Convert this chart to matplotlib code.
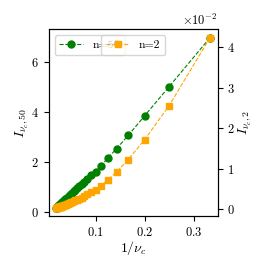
import matplotlib
matplotlib.use("Agg")
import matplotlib.pyplot as plt
import numpy as np

plt.rcParams["font.family"] = "serif"
plt.rcParams["font.serif"] = ["cmr10", "DejaVu Serif"]
plt.rcParams["mathtext.fontset"] = "cm"
plt.rcParams["axes.formatter.use_mathtext"] = True
plt.rcParams["axes.unicode_minus"] = False
plt.rcParams["font.size"] = 9

# nu_c = 3 .. 50
nu_c = np.arange(3, 51)

# I_{nu_c,50} (left axis)
I_50 = [6.98, 5.02, 3.85, 3.07, 2.54, 2.16, 1.85, 1.62,
        1.48, 1.34, 1.22, 1.12, 1.03, 0.96, 0.89, 0.83, 0.77, 0.73,
        0.68, 0.64, 0.60, 0.57, 0.54, 0.51, 0.49, 0.46, 0.44, 0.42,
        0.40, 0.38, 0.36, 0.34, 0.33, 0.31, 0.30, 0.29, 0.27, 0.26,
        0.25, 0.24, 0.23, 0.22, 0.21, 0.20, 0.19, 0.19, 0.18, 0.17]

# I_{nu_c,2} (right axis, in units of 1e-2)
I_2 = [4.24, 2.56, 1.72, 1.23, 0.92, 0.73, 0.58, 0.48,
       0.42, 0.37, 0.33, 0.29, 0.26, 0.24, 0.22, 0.20, 0.18, 0.17,
       0.155, 0.145, 0.135, 0.125, 0.115, 0.108, 0.10, 0.095, 0.09, 0.085,
       0.08, 0.076, 0.072, 0.068, 0.065, 0.062, 0.059, 0.056, 0.054, 0.052,
       0.05, 0.048, 0.046, 0.045, 0.043, 0.042, 0.041, 0.040, 0.039, 0.038]

x = 1.0 / nu_c
I_2 = np.array(I_2) * 1e-2

fig = plt.figure(figsize=(2.66, 2.66), dpi=100)
ax = fig.add_axes([0.183, 0.187, 0.635, 0.703])
ax.plot(x, I_50, "o--", color="green", ms=5, lw=0.8, label="n=50")
ax.set_xlabel(r"$1/\nu_c$", fontsize=10, labelpad=0)
ax.set_ylabel(r"$I_{\nu_c,50}$", fontsize=10, labelpad=1)
ax.set_xticks([0.1, 0.2, 0.3])
ax.set_yticks([0, 2, 4, 6])
ax.legend(loc="upper left", fontsize=8.5)

ax2 = ax.twinx()
ax2.plot(x, I_2, "s--", color="orange", ms=5, lw=0.8, label="n=2")
ax2.set_ylabel(r"$I_{\nu_c,2}$", fontsize=10, labelpad=1)
ax2.ticklabel_format(axis="y", style="sci", scilimits=(0, 0))
ax2.legend(loc="upper center", fontsize=8.5)

fig.savefig("out.png", dpi=100)
